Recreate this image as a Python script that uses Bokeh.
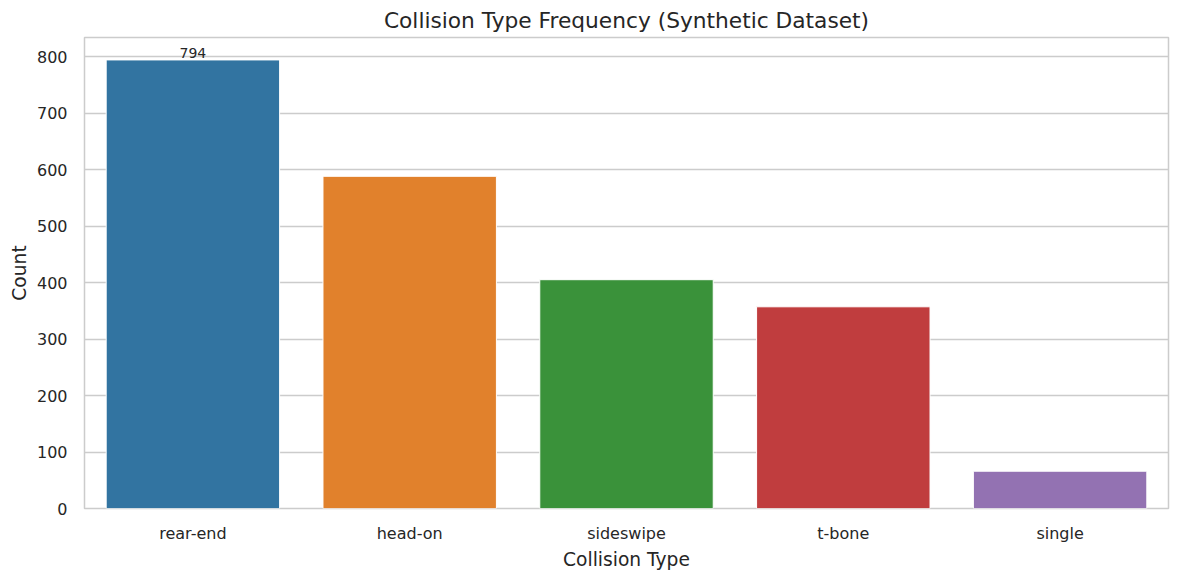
from bokeh.core.properties import value
from bokeh.embed import file_html
from bokeh.models import ColumnDataSource, FixedTicker, Range1d
from bokeh.plotting import figure
from bokeh.resources import INLINE

collision_types = ["rear-end", "head-on", "sideswipe", "t-bone", "single"]
counts = [794, 588, 405, 357, 66]
colors = ["#3274a1", "#e1812c", "#3a923a", "#c03d3e", "#9372b2"]
y_ticks = [0, 100, 200, 300, 400, 500, 600, 700, 800]

FONT = "DejaVu Sans"
TXT = "#262626"

source = ColumnDataSource(data=dict(kind=collision_types, count=counts, color=colors))

p = figure(x_range=collision_types, y_range=Range1d(0, max(counts) * 1.05),
           width=1172, height=572, output_backend="svg", toolbar_location=None,
           min_border_left=84, min_border_right=4, min_border_top=37, min_border_bottom=62)

p.vbar(x="kind", top="count", width=0.8, source=source,
       fill_color="color", line_color="white", line_width=1)

# only the largest bar gets its value written on top
lab = ColumnDataSource(data=dict(kind=[collision_types[0]], count=[counts[0]], txt=[str(counts[0])]))
p.text(x="kind", y="count", text="txt", source=lab, text_align="center", text_baseline="bottom",
       text_font=value(FONT), text_font_size="10.5pt", text_color=TXT, y_offset=-2)

p.title.text = "Collision Type Frequency (Synthetic Dataset)"
p.title.align = "center"
p.title.text_font = FONT
p.title.text_font_size = "16.3pt"
p.title.text_font_style = "normal"
p.title.text_color = TXT

p.outline_line_color = "#cccccc"
p.outline_line_width = 1.5
p.background_fill_color = "white"
p.border_fill_color = "white"

p.xgrid.grid_line_color = None
p.ygrid.grid_line_color = "#cccccc"
p.ygrid.grid_line_width = 1.5

p.yaxis.ticker = FixedTicker(ticks=y_ticks)
for ax in (p.xaxis[0], p.yaxis[0]):
    ax.axis_line_color = None
    ax.major_tick_line_color = None
    ax.minor_tick_line_color = None
    ax.major_label_text_font = FONT
    ax.major_label_text_font_size = "12pt"
    ax.major_label_text_color = TXT
    ax.axis_label_text_font = FONT
    ax.axis_label_text_font_size = "14pt"
    ax.axis_label_text_font_style = "normal"
    ax.axis_label_text_color = TXT

p.xaxis.axis_label = "Collision Type"
p.yaxis.axis_label = "Count"
p.xaxis.major_label_standoff = 9
p.yaxis.major_label_standoff = 11
p.xaxis.axis_label_standoff = 3
p.yaxis.axis_label_standoff = 4

open("out.html", "w").write(file_html(p, INLINE))
